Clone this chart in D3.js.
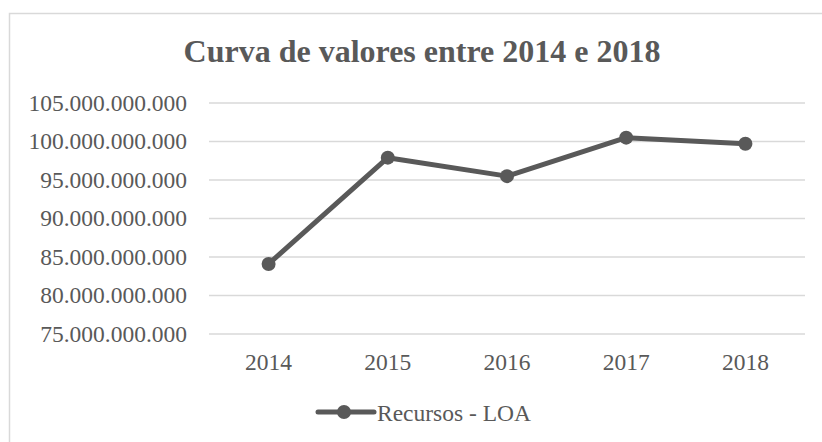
<!DOCTYPE html>
<html>
<head>
<meta charset="utf-8">
<script src="https://cdn.jsdelivr.net/npm/d3@7"></script>
<style>
  body { margin: 0; background: #fff; }
</style>
</head>
<body>
<script>
// chart values
var years = ["2014", "2015", "2016", "2017", "2018"];
var recursosLOA = [84.1e9, 97.9e9, 95.5e9, 100.5e9, 99.7e9];
var yTicks = [75e9, 80e9, 85e9, 90e9, 95e9, 100e9, 105e9];
var seriesName = "Recursos - LOA";
var chartTitle = "Curva de valores entre 2014 e 2018";

var w = 822, h = 442;
var color = "#595959", gridColor = "#d9d9d9";
var serif = "'Liberation Serif', 'Times New Roman', Times, serif";

var svg = d3.select("body").append("svg")
    .attr("width", w)
    .attr("height", h)
    .style("font-family", serif);

// chart frame
svg.append("rect")
    .attr("x", 9.5).attr("y", 13.5)
    .attr("width", w).attr("height", h)
    .attr("fill", "#fff")
    .attr("stroke", gridColor)
    .attr("stroke-width", 1.5);

var x = d3.scalePoint()
    .domain(years)
    .range([209, 805])
    .padding(0.5);

var y = d3.scaleLinear()
    .domain([75e9, 105e9])
    .range([334, 103]);

var fmt = function(d) {
  return d3.format(",.0f")(d).replace(/,/g, ".");
};

// title
svg.append("text")
    .attr("x", 422)
    .attr("y", 62)
    .attr("text-anchor", "middle")
    .attr("fill", color)
    .style("font-size", "32px")
    .style("font-weight", "bold")
    .text(chartTitle);

// gridlines + y labels
var yTick = svg.append("g").selectAll("g")
    .data(yTicks)
    .enter().append("g");

yTick.append("line")
    .attr("x1", 209).attr("x2", 805)
    .attr("y1", function(d) { return y(d); })
    .attr("y2", function(d) { return y(d); })
    .attr("stroke", gridColor)
    .attr("stroke-width", 1.5);

yTick.append("text")
    .attr("x", 187)
    .attr("y", function(d) { return y(d); })
    .attr("dy", "0.33em")
    .attr("text-anchor", "end")
    .attr("fill", color)
    .style("font-size", "23.5px")
    .text(fmt);

// x labels
svg.append("g").selectAll("text")
    .data(years)
    .enter().append("text")
    .attr("x", function(d) { return x(d); })
    .attr("y", 370)
    .attr("text-anchor", "middle")
    .attr("fill", color)
    .style("font-size", "23.5px")
    .text(function(d) { return d; });

// line
var line = d3.line()
    .x(function(d, i) { return x(years[i]); })
    .y(function(d) { return y(d); });

svg.append("path")
    .datum(recursosLOA)
    .attr("fill", "none")
    .attr("stroke", color)
    .attr("stroke-width", 5)
    .attr("stroke-linejoin", "round")
    .attr("d", line);

svg.append("g").selectAll("circle")
    .data(recursosLOA)
    .enter().append("circle")
    .attr("cx", function(d, i) { return x(years[i]); })
    .attr("cy", function(d) { return y(d); })
    .attr("r", 7)
    .attr("fill", color);

// legend
var legend = svg.append("g");
legend.append("line")
    .attr("x1", 318).attr("x2", 374)
    .attr("y1", 412).attr("y2", 412)
    .attr("stroke", color)
    .attr("stroke-width", 5)
    .attr("stroke-linecap", "round");
legend.append("circle")
    .attr("cx", 344).attr("cy", 412)
    .attr("r", 7)
    .attr("fill", color);
legend.append("text")
    .attr("x", 377)
    .attr("y", 421)
    .attr("fill", color)
    .style("font-size", "23.5px")
    .text(seriesName);
</script>
</body>
</html>
